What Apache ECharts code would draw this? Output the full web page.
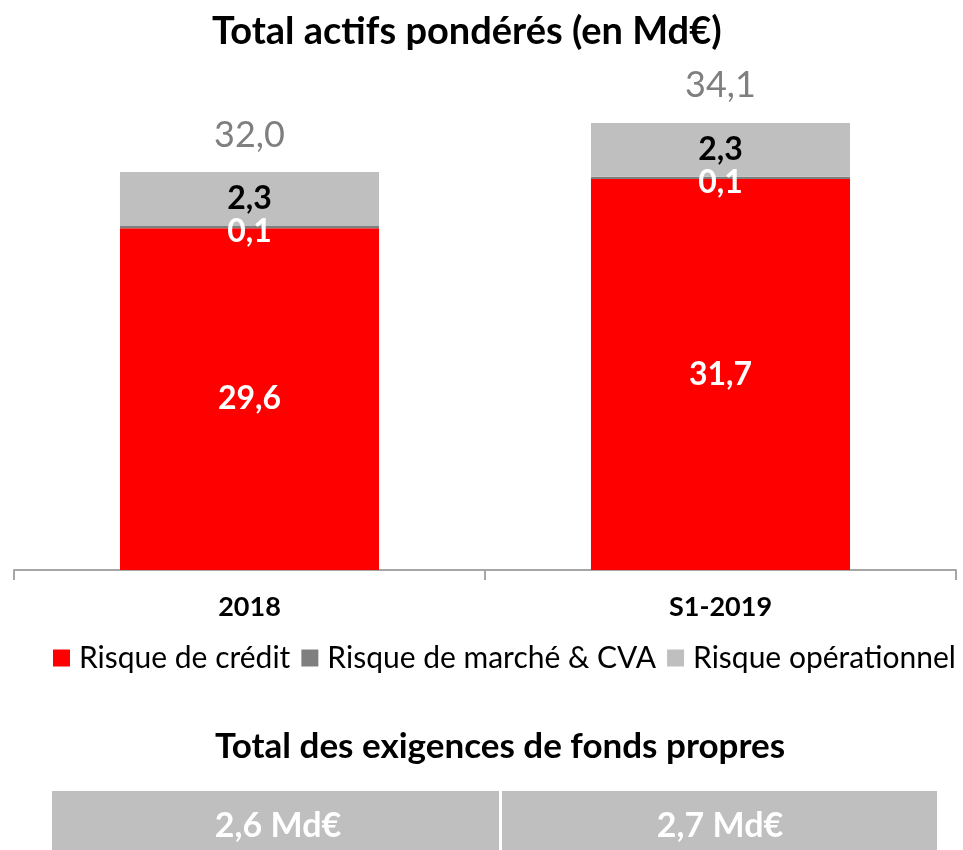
<!DOCTYPE html>
<html lang="fr">
	<head>
		<meta charset="UTF-8">
		<title>Total actifs pondérés</title>
		<script src="https://cdn.jsdelivr.net/npm/echarts@6.0.0/dist/echarts.min.js" type="text/javascript" charset="utf-8"></script>
		<style>
			html, body { margin: 0; padding: 0; background: #fff; }
			#bar { width: 963px; height: 850px; }
		</style>
	</head>
	<body>
		<div id="bar"></div>
	</body>
	<script type="text/javascript">
		// données
		var categories = ['2018', 'S1-2019']
		var creditData = [29.6, 31.7]
		var marcheData = [0.1, 0.1]
		var operData = [2.3, 2.3]
		var totalData = [32.0, 34.1]
		var fondsPropres = ['2,6 Md€', '2,7 Md€']

		var FONT = 'Lato'

		function fmt(v) {
			return v.toFixed(1).replace('.', ',')
		}

		function barLabel(color, offset) {
			return {
				show: true,
				position: 'inside',
				offset: offset || [0, 0],
				fontFamily: FONT,
				fontWeight: 'bold',
				fontSize: 32,
				color: color,
				formatter: function(p) { return fmt(p.value) }
			}
		}

		function editBar() {
			var myChart = echarts.init(document.getElementById('bar'))

			var option = {
				animation: false,
				color: ['#ff0000', '#7f7f7f', '#bfbfbf'],
				title: {
					text: 'Total actifs pondérés (en Md€)',
					left: 207,
					top: 8,
					textStyle: {
						fontFamily: FONT,
						fontWeight: 'bold',
						fontSize: 38,
						color: '#000'
					}
				},
				legend: {
					data: ['Risque de crédit', 'Risque de marché & CVA', 'Risque opérationnel'],
					left: 48,
					top: 638,
					itemWidth: 17,
					itemHeight: 17,
					itemGap: 11,
					icon: 'rect',
					textStyle: {
						fontFamily: FONT,
						fontSize: 30,
						color: '#000',
						padding: [0, 0, 0, 4]
					}
				},
				grid: {
					left: 14,
					right: 7,
					top: 55,
					bottom: 280,
					containLabel: false
				},
				xAxis: [{
					type: 'category',
					data: categories,
					axisTick: {
						show: true,
						length: 10,
						lineStyle: {
							color: '#a6a6a6',
							width: 2
						}
					},
					axisLine: {
						lineStyle: {
							color: '#a6a6a6',
							width: 2
						}
					},
					axisLabel: {
						margin: 24,
						fontFamily: FONT,
						fontWeight: 'bold',
						fontSize: 27,
						color: '#000'
					}
				}],
				yAxis: [{
					type: 'value',
					min: 15,
					max: 37,
					show: false,
					splitLine: { show: false }
				}],
				series: [{
					name: 'Risque de crédit',
					type: 'bar',
					stack: 'total',
					barWidth: '55%',
					barGap: '-100%',
					data: creditData,
					label: barLabel('#fff')
				}, {
					name: 'Risque de marché & CVA',
					type: 'bar',
					stack: 'total',
					barWidth: '55%',
					barGap: '-100%',
					data: marcheData,
					label: barLabel('#fff', [0, 5])
				}, {
					name: 'Risque opérationnel',
					type: 'bar',
					stack: 'total',
					barWidth: '55%',
					barGap: '-100%',
					data: operData,
					label: barLabel('#000')
				}, {
					// total au-dessus des barres (barre invisible)
					name: 'Total',
					type: 'bar',
					barWidth: '55%',
					barGap: '-100%',
					z: 1,
					data: totalData,
					itemStyle: { color: 'rgba(0,0,0,0)' },
					label: {
						show: true,
						position: 'top',
						distance: 19,
						fontFamily: FONT,
						fontSize: 36,
						color: '#7f7f7f',
						formatter: function(p) { return fmt(p.value) }
					}
				}],
				graphic: [{
					type: 'text',
					left: 215,
					top: 729,
					style: {
						text: 'Total des exigences de fonds propres',
						font: 'bold 35px ' + FONT,
						fill: '#000'
					}
				}, {
					type: 'rect',
					shape: { x: 52, y: 791, width: 447, height: 60 },
					style: { fill: '#bfbfbf' }
				}, {
					type: 'rect',
					shape: { x: 502, y: 791, width: 435, height: 60 },
					style: { fill: '#bfbfbf' }
				}, {
					type: 'text',
					x: 278,
					y: 826,
					style: {
						text: fondsPropres[0],
						font: 'bold 34px ' + FONT,
						fill: '#fff',
						align: 'center',
						verticalAlign: 'middle'
					}
				}, {
					type: 'text',
					x: 720,
					y: 826,
					style: {
						text: fondsPropres[1],
						font: 'bold 34px ' + FONT,
						fill: '#fff',
						align: 'center',
						verticalAlign: 'middle'
					}
				}]
			}

			myChart.setOption(option)
		}

		editBar()
	</script>
</html>
